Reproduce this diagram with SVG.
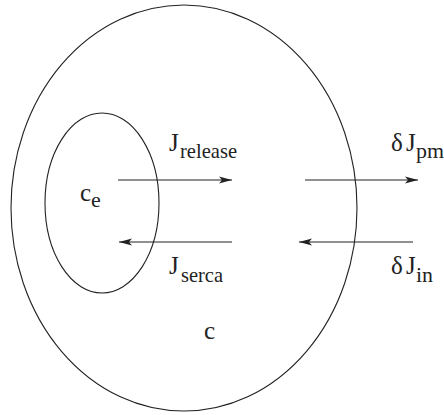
<svg xmlns="http://www.w3.org/2000/svg" width="444" height="415" viewBox="0 0 444 415">
<style>
.shape{fill:none;stroke:#222;stroke-width:1.1}
.conn{stroke:#222;stroke-width:1.2;fill:none}
text{font-family:"Liberation Serif","Times New Roman",serif;fill:#222}
.m{font-size:25px}
.s{font-size:22px}
</style>
<defs>
<marker id="ah" markerUnits="userSpaceOnUse" markerWidth="14" markerHeight="10" viewBox="0 0 14 10" refX="13" refY="5" orient="auto">
<path d="M0,1.5 L13,5 L0,8.5 L3,5 Z" fill="#222"/>
</marker>
</defs>
<g id="cell">
<ellipse class="shape" cx="184" cy="208" rx="173" ry="203"/>
<text class="m" x="204" y="339">c</text>
</g>
<g id="er">
<ellipse class="shape" cx="102" cy="203" rx="57" ry="90"/>
<text x="80" y="201"><tspan class="m">c</tspan><tspan class="s" x="91" y="207">e</tspan></text>
</g>
<g id="connectors">
<line class="conn" x1="118" y1="180" x2="232" y2="180" marker-end="url(#ah)"/>
<line class="conn" x1="305" y1="180" x2="418" y2="180" marker-end="url(#ah)"/>
<line class="conn" x1="232" y1="242" x2="119" y2="242" marker-end="url(#ah)"/>
<line class="conn" x1="413" y1="242" x2="299" y2="242" marker-end="url(#ah)"/>
</g>
<g id="labels">
<text x="169" y="151"><tspan class="m">J</tspan><tspan class="s" x="180" y="158" textLength="57" lengthAdjust="spacingAndGlyphs">release</tspan></text>
<text x="169" y="274"><tspan class="m">J</tspan><tspan class="s" x="181" y="282" textLength="42" lengthAdjust="spacingAndGlyphs">serca</tspan></text>
<text x="391" y="151"><tspan class="m">δ</tspan><tspan class="m" x="406">J</tspan><tspan class="s" x="416" y="158" textLength="28" lengthAdjust="spacingAndGlyphs">pm</tspan></text>
<text x="391" y="274"><tspan class="m">δ</tspan><tspan class="m" x="406">J</tspan><tspan class="s" x="416" y="282" textLength="17" lengthAdjust="spacingAndGlyphs">in</tspan></text>
</g>
</svg>
